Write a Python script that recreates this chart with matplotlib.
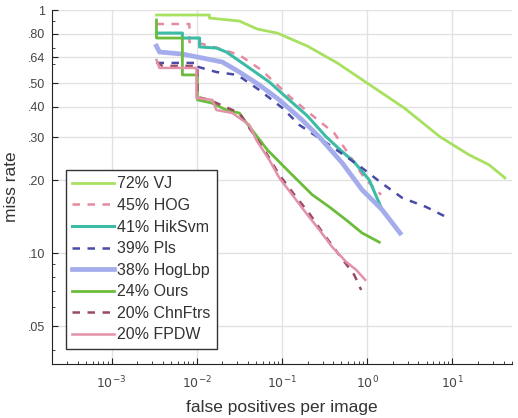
import numpy as np
import matplotlib
matplotlib.use("Agg")
import matplotlib.pyplot as plt
from matplotlib.ticker import FixedLocator, FixedFormatter, LogLocator, NullFormatter

plt.rcParams['font.family'] = ['Liberation Sans', 'DejaVu Sans']

# curves: false positives per image / miss rate
vj_x = [0.00337, 0.0141, 0.0141, 0.0317, 0.0515, 0.0883, 0.199, 0.446, 1.0, 2.72, 7.19, 15.7, 27.0, 41.6]
vj_y = [0.954, 0.954, 0.927, 0.901, 0.835, 0.804, 0.711, 0.606, 0.501, 0.396, 0.301, 0.254, 0.231, 0.204]

hog_x = [0.00337, 0.0082, 0.0082, 0.0117, 0.0175, 0.0317, 0.0573, 0.125, 0.240, 0.411, 0.617, 0.925, 1.46]
hog_y = [0.876, 0.876, 0.739, 0.725, 0.698, 0.653, 0.567, 0.439, 0.363, 0.312, 0.254, 0.204, 0.174]

hik_x = [0.00337, 0.00679, 0.00679, 0.0108, 0.0108, 0.0170, 0.0223, 0.0415, 0.0711, 0.122, 0.199, 0.331, 0.484, 0.706, 1.06, 1.50]
hik_y = [0.804, 0.804, 0.767, 0.767, 0.705, 0.698, 0.672, 0.578, 0.506, 0.427, 0.367, 0.301, 0.266, 0.237, 0.200, 0.151]

pls_x = [0.00337, 0.0105, 0.0105, 0.0170, 0.0300, 0.0543, 0.101, 0.160, 0.360, 0.807, 1.46, 2.58, 4.93, 8.46]
pls_y = [0.606, 0.606, 0.583, 0.556, 0.541, 0.469, 0.396, 0.337, 0.279, 0.229, 0.195, 0.169, 0.155, 0.141]

lbp_x = [0.00337, 0.00365, 0.00679, 0.0102, 0.0200, 0.0317, 0.0543, 0.0933, 0.173, 0.274, 0.511, 0.877, 1.50, 2.44]
lbp_y = [0.711, 0.672, 0.659, 0.641, 0.611, 0.556, 0.492, 0.427, 0.353, 0.301, 0.235, 0.182, 0.151, 0.121]

ours_x = [0.00337, 0.00337, 0.00679, 0.00679, 0.0102, 0.0102, 0.0149, 0.0223, 0.0317, 0.0362, 0.0515, 0.0675, 0.125, 0.227, 0.360, 0.569, 0.877, 1.39]
ours_y = [0.910, 0.767, 0.767, 0.541, 0.541, 0.427, 0.415, 0.388, 0.377, 0.353, 0.301, 0.266, 0.214, 0.174, 0.155, 0.137, 0.121, 0.111]

chn_x = [0.00337, 0.00396, 0.0102, 0.0102, 0.0141, 0.0317, 0.0415, 0.0622, 0.0933, 0.140, 0.209, 0.314, 0.471, 0.706, 0.853]
chn_y = [0.611, 0.589, 0.589, 0.439, 0.427, 0.377, 0.327, 0.266, 0.210, 0.174, 0.146, 0.119, 0.0984, 0.0815, 0.0706]

fpdw_x = [0.00337, 0.00365, 0.00992, 0.00992, 0.0153, 0.0170, 0.0262, 0.0415, 0.0501, 0.0711, 0.0933, 0.132, 0.193, 0.274, 0.390, 0.569, 0.745, 0.951]
fpdw_y = [0.623, 0.578, 0.578, 0.435, 0.427, 0.388, 0.377, 0.337, 0.292, 0.242, 0.204, 0.174, 0.146, 0.125, 0.106, 0.0921, 0.0854, 0.0777]

labels = ['72% VJ', '45% HOG', '41% HikSvm', '39% Pls', '38% HogLbp', '24% Ours', '20% ChnFtrs', '20% FPDW']

y_ticks = [0.05, 0.10, 0.20, 0.30, 0.40, 0.50, 0.64, 0.80, 1.0]
y_tick_labels = ['.05', '.10', '.20', '.30', '.40', '.50', '.64', '.80', '1']
x_ticks = [1e-3, 1e-2, 1e-1, 1e0, 1e1]
x_tick_labels = [r'$10^{-3}$', r'$10^{-2}$', r'$10^{-1}$', r'$10^{0}$', r'$10^{1}$']

fig = plt.figure(figsize=(5.18, 4.18), dpi=100)
ax = fig.add_axes([0.1004, 0.129, 0.8876, 0.847])

ax.plot(vj_x, vj_y, color='#a8e060', lw=2.0, label=labels[0])
ax.plot(hog_x, hog_y, color='#e68aa0', lw=1.8, ls=(0, (3, 3)), label=labels[1])
ax.plot(hik_x, hik_y, color='#3cbca6', lw=2.2, label=labels[2])
ax.plot(pls_x, pls_y, color='#4a4aa8', lw=1.8, ls=(0, (3, 3)), label=labels[3])
ax.plot(lbp_x, lbp_y, color='#a4aceb', lw=3.4, label=labels[4])
ax.plot(ours_x, ours_y, color='#6cbc3c', lw=2.0, label=labels[5])
ax.plot(chn_x, chn_y, color='#9a4a66', lw=1.8, ls=(0, (3, 3)), label=labels[6])
ax.plot(fpdw_x, fpdw_y, color='#e292a8', lw=1.8, label=labels[7])

ax.set_xscale('log')
ax.set_yscale('log')
ax.set_xlim(2e-4, 50)
ax.set_ylim(0.035, 1)

ax.yaxis.set_major_locator(FixedLocator(y_ticks))
ax.yaxis.set_major_formatter(FixedFormatter(y_tick_labels))
ax.yaxis.set_minor_locator(LogLocator(base=10, subs=np.arange(2, 10), numticks=20))
ax.yaxis.set_minor_formatter(NullFormatter())
ax.xaxis.set_major_locator(FixedLocator(x_ticks))
ax.xaxis.set_major_formatter(FixedFormatter(x_tick_labels))
ax.xaxis.set_minor_locator(LogLocator(base=10, subs=np.arange(2, 10), numticks=20))
ax.xaxis.set_minor_formatter(NullFormatter())

ax.tick_params(which='both', direction='in', colors='#222222', labelcolor='#444444', labelsize=9)
ax.tick_params(which='major', length=4)
ax.tick_params(which='minor', length=2)
ax.tick_params(axis='x', which='major', pad=8)
ax.tick_params(axis='y', which='major', pad=5)
ax.grid(True, which='major', color='#e2e2e2', lw=1.0)
ax.set_axisbelow(True)

for side in ['top', 'right']:
    ax.spines[side].set_visible(False)
for side in ['left', 'bottom']:
    ax.spines[side].set_color('#222222')

ax.set_xlabel('false positives per image', fontsize=12.5, color='#333333', labelpad=6)
ax.set_ylabel('miss rate', fontsize=12.5, color='#333333', labelpad=6)

leg = ax.legend(loc='upper left', bbox_to_anchor=(0.03, 0.548), borderaxespad=0,
                fontsize=11.5, handlelength=2.6, handletextpad=0.2, labelspacing=0.41,
                fancybox=False, framealpha=1, edgecolor='#333333', borderpad=0.4)
leg.get_frame().set_linewidth(1.0)
for t in leg.get_texts():
    t.set_color('#333333')

fig.savefig('out.png', dpi=100)
